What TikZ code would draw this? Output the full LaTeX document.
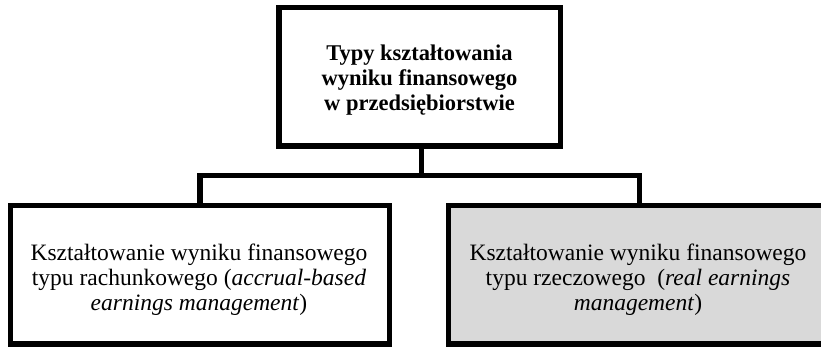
\documentclass[tikz,border=0pt]{standalone}
\usepackage{fontspec}
\setmainfont{Liberation Serif}
\definecolor{boxgray}{HTML}{D9D9D9}
\begin{document}
\begin{tikzpicture}[x=1pt,y=-1pt,
  frame/.style={draw=black,line width=5.5pt},
  conn/.style={draw=black,line width=5.5pt},
  txt/.style={align=center,inner sep=0pt,font=\fontsize{23.5}{25}\selectfont},
  titletxt/.style={align=center,inner sep=0pt,font=\fontsize{22.5}{25}\selectfont\bfseries}]
\useasboundingbox (0,0) rectangle (821,347);
\clip (0,0) rectangle (821,347);
% boxes
\draw[frame,fill=white] (279,7.5) rectangle (560.5,146);
\draw[frame,fill=white] (10.5,205.5) rectangle (389.5,344);
\draw[frame,fill=boxgray] (448.5,205.5) rectangle (830.5,344);
\node[titletxt] (top) at (419.5,80.5)
  {Typy kształtowania\\wyniku finansowego\\w przedsiębiorstwie};
\node[txt] (left) at (199,280)
  {Kształtowanie wyniku finansowego\\typu rachunkowego (\textit{accrual-based}\\\textit{earnings management})};
\node[txt] (right) at (638,280)
  {Kształtowanie wyniku finansowego\\typu rzeczowego\ \ (\textit{real earnings}\\\textit{management})};
\coordinate (tb) at (421.5,146);
\coordinate (hub) at (421.5,175.5);
\coordinate (lj) at (200,175.5);
\coordinate (rj) at (639.5,175.5);
\coordinate (lt) at (200,205.5);
\coordinate (rt) at (639.5,205.5);
\draw[conn] (tb) -- (hub);
\draw[conn] (lt) -- (lj) -- (rj) -- (rt);
\end{tikzpicture}
\end{document}
